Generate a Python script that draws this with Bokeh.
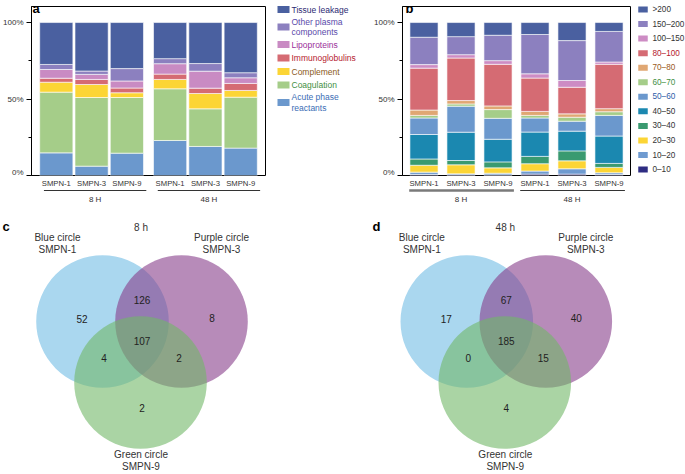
from bokeh.plotting import figure
from bokeh.models import FactorRange, Range1d, FixedTicker, Label, ColumnDataSource, PrintfTickFormatter
from bokeh.layouts import row, column
from bokeh.core.properties import value
from bokeh.embed import file_html
from bokeh.resources import INLINE

FONT = "Liberation Sans"
TXT = "#333333"

# ---------------- data ----------------
times = ["8 H", "48 H"]
samples = ["SMPN-1", "SMPN-3", "SMPN-9"]

# panel a: functional classes (% of total); bars: 8H S1,S3,S9, 48H S1,S3,S9
acute_phase = [14.8, 6.1, 14.6, 22.9, 19.0, 17.9]
coagulation = [39.7, 44.9, 36.4, 33.8, 24.6, 33.3]
complement = [6.5, 8.5, 3.1, 6.1, 10.0, 4.4]
immunoglobulins = [2.6, 3.3, 3.1, 3.5, 3.5, 4.6]
lipoproteins = [5.7, 3.3, 4.6, 6.8, 11.1, 3.7]
other_plasma = [3.3, 2.2, 8.1, 3.3, 5.0, 3.3]
tissue_leakage = [27.4, 31.7, 30.1, 23.6, 26.8, 32.8]

func_labels = ["Acute phase\nreactants", "Coagulation", "Complement", "Immunoglobulins",
               "Lipoproteins", "Other plasma\ncomponents", "Tissue leakage"]
func_colors = ["#6b98cd", "#a5cd89", "#fcd535", "#d56b73", "#c98bc3", "#8c80bf", "#4a60a0"]
func_text_colors = ["#3a6db5", "#3f8f3f", "#8b5a20", "#b5202e", "#9a2f9a", "#5a4aaa", "#2b2a72"]

# panel b: molecular weight classes (kDa), % of total
mw_labels = ["0\u201310", "10\u201320", "20\u201330", "30\u201340", "40\u201350", "50\u201360",
             "60\u201370", "70\u201380", "80\u2013100", "100\u2013150", "150\u2013200", ">200"]
mw_0_10 = [0.7, 0.4, 0.4, 0.9, 0.9, 0.7]
mw_10_20 = [1.5, 0.7, 1.1, 2.0, 3.5, 1.1]
mw_20_30 = [4.5, 5.9, 3.5, 4.8, 5.2, 3.5]
mw_30_40 = [4.1, 2.8, 3.9, 4.8, 6.5, 2.6]
mw_40_50 = [16.0, 18.5, 14.8, 15.9, 12.9, 17.9]
mw_50_60 = [10.8, 17.0, 13.7, 9.2, 6.5, 13.5]
mw_60_70 = [1.7, 1.5, 5.7, 1.7, 2.6, 2.4]
mw_70_80 = [3.5, 2.2, 2.4, 2.6, 2.2, 2.0]
mw_80_100 = [27.4, 27.8, 27.2, 21.8, 17.4, 29.0]
mw_100_150 = [2.3, 2.2, 2.4, 2.8, 4.4, 1.5]
mw_150_200 = [17.9, 11.8, 16.6, 25.7, 26.1, 20.0]
mw_200_plus = [9.6, 9.2, 8.3, 7.8, 11.8, 5.8]
mw_colors = ["#2e2c82", "#6f9bd0", "#fcd535", "#3a9a70", "#1b88b0", "#6b98cd",
             "#a5cd89", "#e0a773", "#d56b73", "#cd8cc4", "#8c80bf", "#4a60a0"]
mw_text_colors = [TXT, TXT, TXT, TXT, TXT, "#2f5da8", "#3f8f3f", "#9b5a22", "#b5202e", TXT, TXT, TXT]

# venn panels: regions = 1 only, 1&3, 3 only, all three, 1&9, 3&9, 9 only
venn_sets = ["SMPN-1", "SMPN-3", "SMPN-9"]
venn_circles = ["Blue circle", "Purple circle", "Green circle"]
venn_titles = ["8 h", "48 h"]
venn_8h = [52, 126, 8, 107, 4, 2, 2]
venn_48h = [17, 67, 40, 185, 0, 15, 4]
venn_colors = ["#71bce4", "#873e8a", "#71b767"]

factors = [(t, s) for t in times for s in samples]

TOP_H = 176
STRIP_H = 30
VENN_H = 268


def base_fig(**kw):
    p = figure(output_backend="svg", toolbar_location=None, title=None, **kw)
    p.background_fill_color = "white"
    p.border_fill_color = "white"
    return p


def stacked_panel(series, colors, fig_w, left, group_padding, range_padding, bar_width, y_top,
                  letter, letter_x, line_offsets, line_colors, line_widths, label_offset):
    xr = FactorRange(*factors, group_padding=group_padding, range_padding=range_padding)
    data = {"x": factors}
    keys = []
    for i, s in enumerate(series):
        k = "s%d" % i
        data[k] = s
        keys.append(k)
    src = ColumnDataSource(data)
    p = base_fig(x_range=xr, y_range=Range1d(0, y_top), width=fig_w, height=TOP_H,
                 min_border_left=left, min_border_right=2, min_border_top=6, min_border_bottom=1,
                 x_axis_location=None)
    p.vbar_stack(keys, x="x", width=bar_width, fill_color=colors, line_color="white",
                 line_width=0.6, source=src)
    p.grid.visible = False
    p.outline_line_color = "black"
    p.outline_line_width = 1
    ax = p.yaxis[0]
    ax.ticker = FixedTicker(ticks=[0, 50, 100], minor_ticks=[25, 75])
    ax.formatter = PrintfTickFormatter(format="%d%%")
    ax.axis_line_color = "black"
    ax.major_tick_line_color = "black"
    ax.minor_tick_line_color = "black"
    ax.major_tick_out = 5
    ax.major_tick_in = 0
    ax.minor_tick_out = 3
    ax.minor_tick_in = 0
    ax.major_label_standoff = 3
    ax.major_label_text_font = FONT
    ax.major_label_text_font_size = "8px"
    ax.major_label_text_color = TXT
    p.add_layout(Label(x=letter_x, y=TOP_H - 1, x_units="screen", y_units="screen", text=letter,
                       text_font=FONT, text_font_size="13px", text_font_style="bold",
                       text_baseline="top", text_color="black"))

    s = base_fig(x_range=xr, y_range=Range1d(STRIP_H, 0), width=fig_w, height=STRIP_H,
                 min_border_left=left, min_border_right=2, min_border_top=0, min_border_bottom=0,
                 x_axis_location=None, y_axis_location=None)
    s.outline_line_color = None
    s.grid.visible = False
    s.text(x=factors, y=7, text=[f[1] for f in factors], text_align="center",
           text_baseline="middle", text_font=value(FONT), text_font_size="7.7px", text_color=TXT)
    s.segment(x0=[(t, samples[0], line_offsets[0]) for t in times], y0=14,
              x1=[(t, samples[-1], line_offsets[1]) for t in times], y1=14,
              line_color=line_colors, line_width=line_widths)
    s.text(x=[(t, samples[1], label_offset) for t in times], y=23, text=times,
           text_align="center", text_baseline="middle", text_font=value(FONT),
           text_font_size="8px", text_color=TXT)
    return column(p, s)


def legend_fig(labels, colors, tcolors, w, ys, sq_x, sq_w, sq_h, text_x, font_size):
    p = base_fig(x_range=Range1d(0, w), y_range=Range1d(TOP_H + STRIP_H, 0), width=w,
                 height=TOP_H + STRIP_H, min_border=0, x_axis_location=None, y_axis_location=None)
    p.outline_line_color = None
    p.grid.visible = False
    p.rect(x=sq_x, y=ys, width=sq_w, height=sq_h, fill_color=colors, line_color=None)
    p.text(x=text_x, y=ys, text=labels, text_color=tcolors, text_baseline="middle",
           text_align="left", text_font=value(FONT), text_font_size=font_size,
           text_line_height=1.08)
    return p


# ---------- panel a ----------
series_a = [acute_phase, coagulation, complement, immunoglobulins, lipoproteins, other_plasma, tissue_leakage]
panel_a = stacked_panel(series_a, func_colors, 267, 29, 0.225, 0.065, 0.94, 110.5, "a", 1,
                        (-0.35, 0.55), ["#333333", "#333333"], [1.1, 1.1], 0.1)

# legend a (top -> bottom)
la_labels = func_labels[::-1]
la_ys = []
y = 9.0
prev_h = None
for lab in la_labels:
    h = 13.5 + 8 * lab.count("\n")
    if prev_h is not None:
        y += (prev_h + h) / 2
    la_ys.append(y)
    prev_h = h
legend_a = legend_fig(la_labels, func_colors[::-1], func_text_colors[::-1], 103, la_ys,
                      16, 12, 7, 24, "8.5px")

# ---------- panel b ----------
series_b = [mw_0_10, mw_10_20, mw_20_30, mw_30_40, mw_40_50, mw_50_60, mw_60_70, mw_70_80,
            mw_80_100, mw_100_150, mw_150_200, mw_200_plus]
panel_b = stacked_panel(series_b, mw_colors, 262, 32, 0.0, 0.027, 0.76, 110.5, "b", 3,
                        (-0.4, 0.43), ["#7a7a7a", "#333333"], [2.5, 1.1], 0.0)

lb_labels = mw_labels[::-1]
lb_ys = [9 + 14.55 * i for i in range(len(lb_labels))]
legend_b = legend_fig(lb_labels, mw_colors[::-1], mw_text_colors[::-1], 53, lb_ys,
                      10.5, 9.5, 6, 20, "8.2px")


# ---------- venn panels ----------
def venn_panel(counts, title, letter, x0, w, cx, letter_x):
    p = base_fig(x_range=Range1d(x0, x0 + w), y_range=Range1d(206 + VENN_H, 206), width=w,
                 height=VENN_H, min_border=0, x_axis_location=None, y_axis_location=None)
    p.outline_line_color = None
    p.grid.visible = False
    cy = 321.0
    d = 39.5
    r = 66.3
    cxs = [cx - d, cx + d, cx - 1.5]
    cys = [cy, cy, cy + 61]
    p.circle(x=cxs, y=cys, radius=r, fill_color=venn_colors, fill_alpha=0.6, line_color=None)
    offs = [(-60, -3), (0, -22), (70, -4), (0, 19), (-38, 36), (37, 36), (0, 86)]
    p.text(x=[cx + o[0] for o in offs], y=[cy + o[1] for o in offs], text=[str(c) for c in counts],
           text_align="center", text_baseline="middle", text_font=value(FONT),
           text_font_size="10px", text_color="#222222")
    p.text(x=[cx - 84.5, cx + 79.5, cx - 1], y=[243, 243, 460],
           text=["%s\n%s" % (c, s) for c, s in zip(venn_circles, venn_sets)],
           text_align="center", text_baseline="middle", text_font=value(FONT),
           text_font_size="10px", text_color=TXT, text_line_height=1.15)
    p.text(x=[cx - 1], y=[227], text=[title], text_align="center", text_baseline="middle",
           text_font=value(FONT), text_font_size="10px", text_color=TXT)
    p.text(x=[letter_x], y=[218], text=[letter], text_baseline="top", text_font=value(FONT),
           text_font_size="13px", text_font_style="bold", text_color="black")
    return p


venn_c = venn_panel(venn_8h, venn_titles[0], "c", 0, 340, 141.5, 2)
venn_d = venn_panel(venn_48h, venn_titles[1], "d", 340, 345, 505.8, 372)

layout = column(row(panel_a, legend_a, panel_b, legend_b), row(venn_c, venn_d))

with open("out.html", "w") as f:
    f.write(file_html(layout, INLINE))
